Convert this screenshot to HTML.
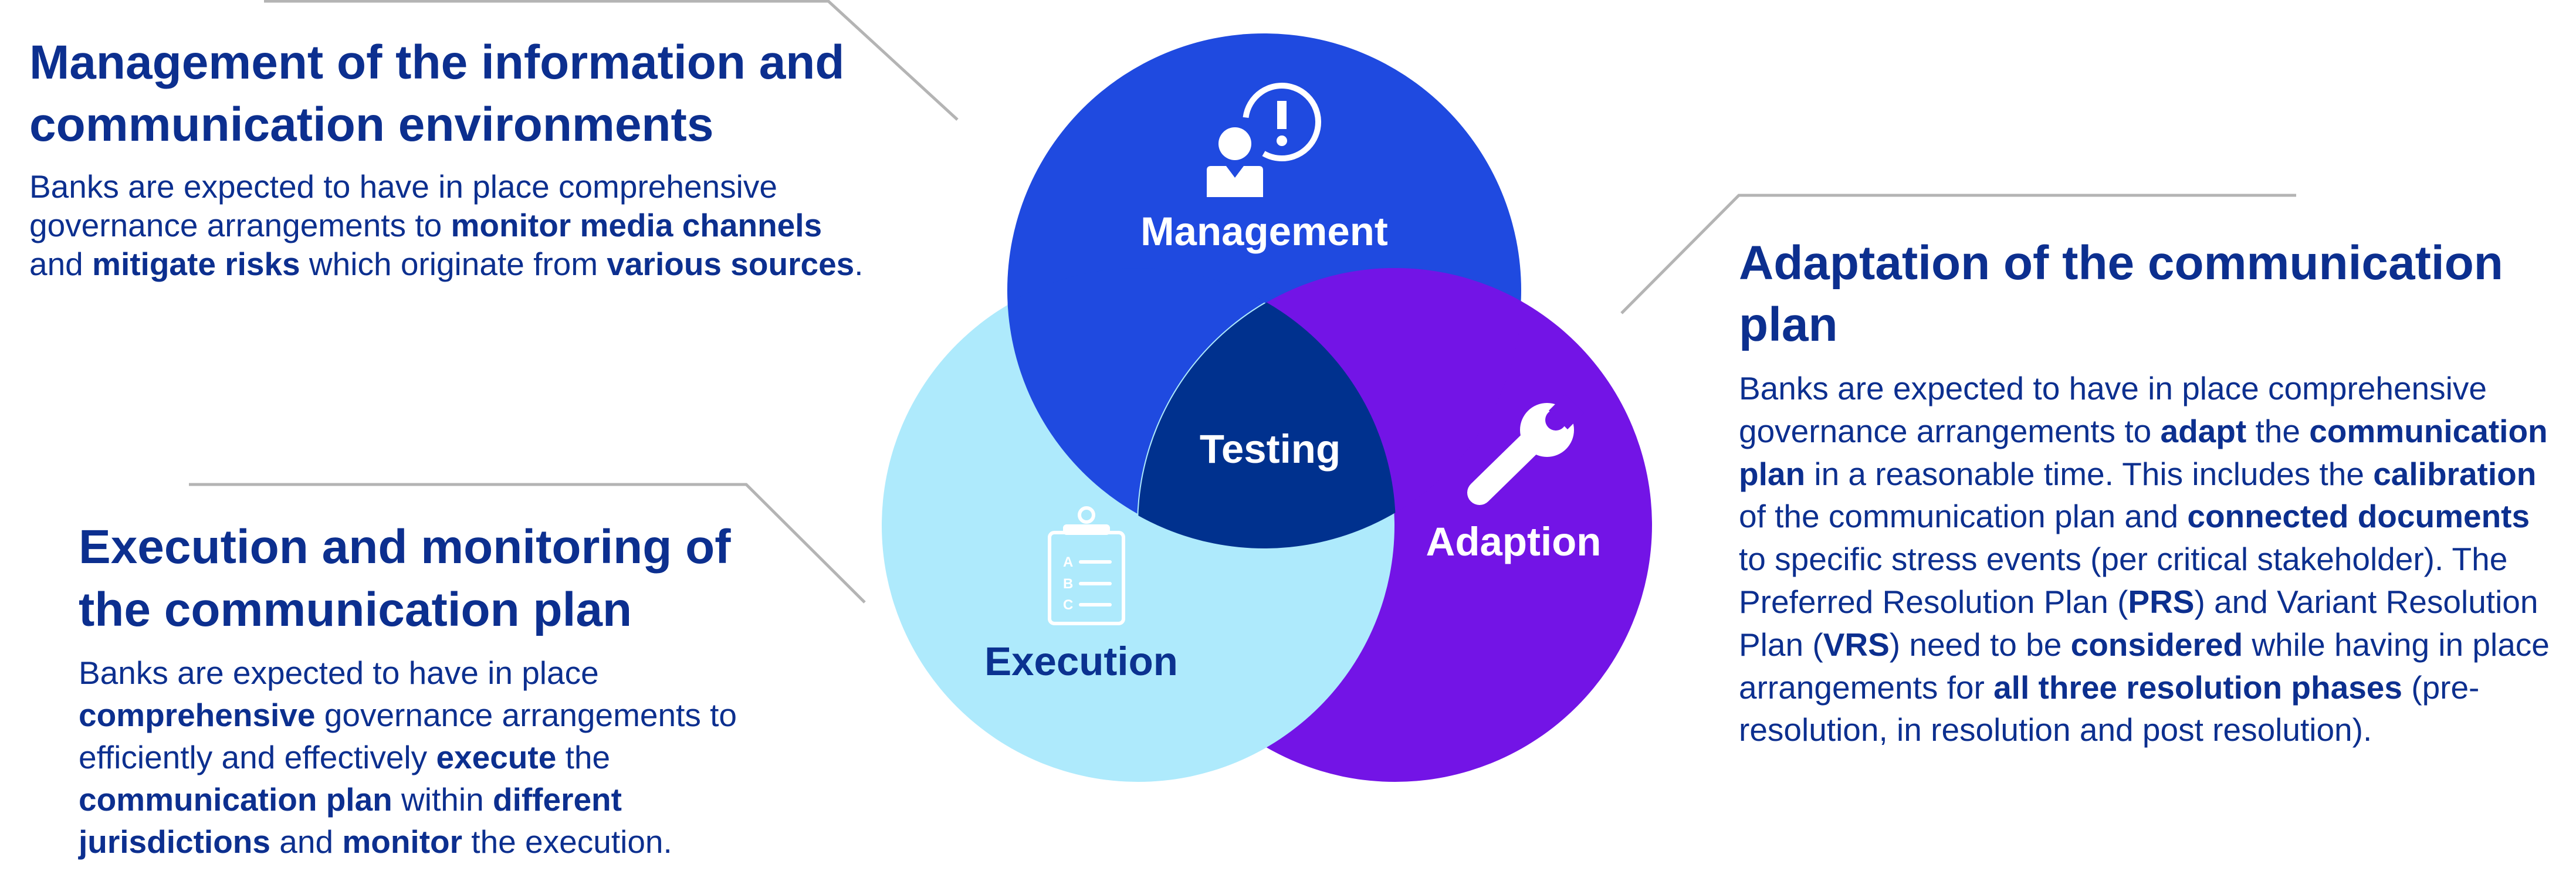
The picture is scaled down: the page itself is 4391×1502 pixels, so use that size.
<!DOCTYPE html>
<html><head><meta charset="utf-8"><style>
html,body{margin:0;padding:0;background:#fff;}
svg{display:block;}
text{font-family:"Liberation Sans",Arial,sans-serif;}
.t{font-size:82px;font-weight:bold;fill:#0c2f8f;}
.b{font-size:55px;fill:#0c2f8f;}
.b tspan.k{font-weight:bold;}
.c{font-size:69px;font-weight:bold;fill:#fff;text-anchor:middle;}
</style></head><body>
<svg width="4391" height="1502" viewBox="0 0 4391 1502" xmlns="http://www.w3.org/2000/svg">
<defs>
<clipPath id="cM"><circle cx="2155" cy="495" r="440"/></clipPath>
<clipPath id="cE"><circle cx="1940" cy="896" r="439"/></clipPath>
<clipPath id="cA"><circle cx="2378" cy="895" r="440"/></clipPath>
</defs>
<g fill="none" stroke="#b4b4b4" stroke-width="5">
<polyline points="450,2 1412,2 1632,204"/>
<polyline points="322,826 1272,826 1474,1027"/>
<polyline points="3914,333 2964,333 2764,534"/>
</g>
<circle cx="2155" cy="495" r="438" fill="#1f4ae0"/>
<circle cx="1940" cy="896" r="437" fill="#aeeafc"/>
<circle cx="2378" cy="895" r="438" fill="#7314e6"/>
<g clip-path="url(#cE)"><circle cx="2155" cy="495" r="438" fill="#1f4ae0"/></g>
<g clip-path="url(#cM)"><circle cx="2378" cy="895" r="438" fill="#7314e6"/></g>
<g clip-path="url(#cA)"><circle cx="1940" cy="896" r="437" fill="#aeeafc"/></g>
<g clip-path="url(#cM)"><g clip-path="url(#cE)"><circle cx="2378" cy="895" r="438" fill="#00318e"/></g></g>
<g fill="#fff">
<circle cx="2105" cy="245" r="28"/>
<path d="M2057,290 Q2057,283 2064,283 L2090,283 L2105,303 L2120,283 L2146,283 Q2153,283 2153,290 L2153,336 L2057,336 Z"/>
<rect x="2177" y="172" width="16" height="48"/>
<circle cx="2185" cy="240" r="9"/>
</g>
<path d="M2123.5,200.4 A62,62 0 1 1 2154,261.7" fill="none" stroke="#fff" stroke-width="10"/>
<g>
<line x1="2522" y1="840" x2="2612" y2="752" stroke="#fff" stroke-width="42" stroke-linecap="round"/>
<circle cx="2637" cy="733" r="46" fill="#fff"/>
<circle cx="2652" cy="716" r="18" fill="#7314e6"/>
<polygon points="2640,700 2668,672 2700,704 2672,732" fill="#7314e6"/>
</g>
<g fill="none" stroke="#fff" stroke-width="6">
<rect x="1789" y="908" width="126" height="155" rx="8"/>
<circle cx="1852" cy="878" r="12"/>
<line x1="1842" y1="958" x2="1892" y2="958" stroke-linecap="round"/>
<line x1="1842" y1="995" x2="1892" y2="995" stroke-linecap="round"/>
<line x1="1842" y1="1031" x2="1892" y2="1031" stroke-linecap="round"/>
</g>
<rect x="1812" y="894" width="80" height="18" rx="6" fill="#fff"/>
<g fill="#fff" font-size="24" font-weight="bold">
<text x="1812" y="966">A</text><text x="1812" y="1003">B</text><text x="1812" y="1039">C</text>
</g>
<text class="c" x="2155" y="418">Management</text>
<text class="c" x="2165" y="789">Testing</text>
<text class="c" x="2580" y="947">Adaption</text>
<text class="c" x="1843" y="1151" style="fill:#0b3290">Execution</text>
<text class="t" x="50" y="134">Management of the information and</text>
<text class="t" x="50" y="240">communication environments</text>
<text class="b" x="50" y="337">Banks are expected to have in place comprehensive</text>
<text class="b" x="50" y="403">governance arrangements to <tspan class="k">monitor media channels</tspan></text>
<text class="b" x="50" y="469">and <tspan class="k">mitigate risks</tspan> which originate from <tspan class="k">various sources</tspan>.</text>
<text class="t" x="134" y="960">Execution and monitoring of</text>
<text class="t" x="134" y="1067">the communication plan</text>
<text class="b" x="134" y="1166">Banks are expected to have in place</text>
<text class="b" x="134" y="1238"><tspan class="k">comprehensive</tspan> governance arrangements to</text>
<text class="b" x="134" y="1310">efficiently and effectively <tspan class="k">execute</tspan> the</text>
<text class="b" x="134" y="1382"><tspan class="k">communication plan</tspan> within <tspan class="k">different</tspan></text>
<text class="b" x="134" y="1454"><tspan class="k">jurisdictions</tspan> and <tspan class="k">monitor</tspan> the execution.</text>
<text class="t" x="2964" y="476">Adaptation of the communication</text>
<text class="t" x="2964" y="581">plan</text>
<text class="b" x="2964" y="681">Banks are expected to have in place comprehensive</text>
<text class="b" x="2964" y="754">governance arrangements to <tspan class="k">adapt</tspan> the <tspan class="k">communication</tspan></text>
<text class="b" x="2964" y="827"><tspan class="k">plan</tspan> in a reasonable time. This includes the <tspan class="k">calibration</tspan></text>
<text class="b" x="2964" y="899">of the communication plan and <tspan class="k">connected documents</tspan></text>
<text class="b" x="2964" y="972">to specific stress events (per critical stakeholder). The</text>
<text class="b" x="2964" y="1045">Preferred Resolution Plan (<tspan class="k">PRS</tspan>) and Variant Resolution</text>
<text class="b" x="2964" y="1118">Plan (<tspan class="k">VRS</tspan>) need to be <tspan class="k">considered</tspan> while having in place</text>
<text class="b" x="2964" y="1191">arrangements for <tspan class="k">all three resolution phases</tspan> (pre-</text>
<text class="b" x="2964" y="1263">resolution, in resolution and post resolution).</text>
</svg>
</body></html>
